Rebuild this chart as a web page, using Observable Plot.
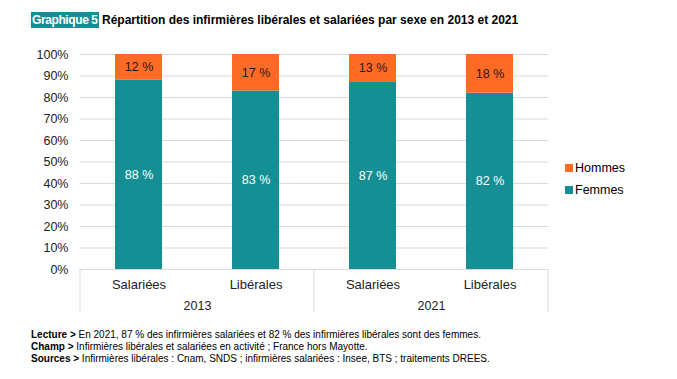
<!DOCTYPE html>
<html><head><meta charset="utf-8">
<script src="https://cdn.jsdelivr.net/npm/d3@7"></script>
<script src="https://cdn.jsdelivr.net/npm/@observablehq/plot@0.6"></script>
<style>
body{margin:0;background:#fff;font-family:"Liberation Sans",Arial,sans-serif;color:#000;}
#wrap{position:relative;width:677px;height:379px;overflow:hidden;}
#title{position:absolute;left:31px;top:12px;font-size:12px;font-weight:bold;white-space:nowrap;}
#title .tag{background:#168f94;color:#fff;padding:1px 1px;letter-spacing:-0.4px;display:inline-block;}
#chart{position:absolute;left:0;top:40px;}
#legend{position:absolute;left:565px;top:157px;font-size:12.5px;}
#legend div{display:flex;align-items:center;height:22px;}
#legend span.sw{display:inline-block;width:8px;height:8px;margin-right:2px;}
#caption{position:absolute;left:31px;top:329px;font-size:10px;line-height:12px;}
</style></head>
<body><div id="wrap">
<div id="title"><span class="tag">Graphique 5</span> Répartition des infirmières libérales et salariées par sexe en 2013 et 2021</div>
<div id="chart"></div>
<div id="legend"></div>
<div id="caption">
<div><b>Lecture &gt;</b> En 2021, 87 % des infirmières salariées et 82 % des infirmières libérales sont des femmes.</div>
<div><b>Champ &gt;</b> Infirmières libérales et salariées en activité ; France hors Mayotte.</div>
<div><b>Sources &gt;</b> Infirmières libérales : Cnam, SNDS ; infirmières salariées : Insee, BTS ; traitements DREES.</div>
</div>
</div>
<script>
const years = ["2013", "2013", "2021", "2021"];
const types = ["Salariées", "Libérales", "Salariées", "Libérales"];
const femmes = [88, 83, 87, 82];
const hommes = [12, 17, 13, 18];
const sexes = ["Femmes", "Hommes"];
const colors = ["#168f94", "#ff6a25"];
const labelColors = ["#ffffff", "#1a1a1a"];
const yTicks = [0,10,20,30,40,50,60,70,80,90,100];

const data = [];
years.forEach((y, i) => {
  data.push({year: y, type: types[i], sexe: "Femmes", value: femmes[i]});
  data.push({year: y, type: types[i], sexe: "Hommes", value: hommes[i]});
});

const plot = Plot.plot({
  width: 677, height: 278,
  marginLeft: 80, marginRight: 129, marginTop: 14, marginBottom: 49,
  style: {fontFamily: '"Liberation Sans", Arial, sans-serif', fontSize: "12.5px", color: "#222"},
  fx: {domain: ["2013","2021"], padding: 0},
  x: {domain: ["Salariées","Libérales"], paddingInner: 0.6, paddingOuter: 0.3},
  y: {domain: [0, 100]},
  color: {domain: sexes, range: colors},
  marks: [
    Plot.gridY(yTicks, {stroke: "#d9d9d9", strokeOpacity: 1}),
    Plot.axisY(yTicks, {tickSize: 0, tickPadding: 12, tickFormat: d => d + "%", label: null}),
    Plot.barY(data, Plot.stackY({fx: "year", x: "type", y: "value", fill: "sexe"})),
    Plot.text(data, Plot.stackY({fx: "year", x: "type", y: "value", text: d => d.value + " %",
      fill: d => labelColors[sexes.indexOf(d.sexe)], fontSize: 12.5})),
    Plot.axisX({tickSize: 0, tickPadding: 10, label: null, fontSize: 13}),
    Plot.axisFx({anchor: "bottom", tickSize: 0, tickPadding: 32, label: null})
  ]
});
document.getElementById("chart").appendChild(plot);

// category box lines at year-group boundaries
const fx = plot.scale("fx");
const yS = plot.scale("y");
const svg = d3.select(plot);
const y0 = yS.apply(0);
const edges = fx.domain.map(d => fx.apply(d)).concat([fx.apply(fx.domain[fx.domain.length-1]) + fx.bandwidth]);
svg.append("g").selectAll("line").data(edges).join("line")
  .attr("x1", d => d).attr("x2", d => d).attr("y1", y0).attr("y2", y0 + 43)
  .attr("stroke", "#d9d9d9").attr("stroke-width", 1);

// legend
const leg = d3.select("#legend");
[1, 0].forEach(i => {
  const row = leg.append("div");
  row.append("span").attr("class", "sw").style("background", colors[i]);
  row.append("span").text(sexes[i]);
});
</script>
</body></html>
